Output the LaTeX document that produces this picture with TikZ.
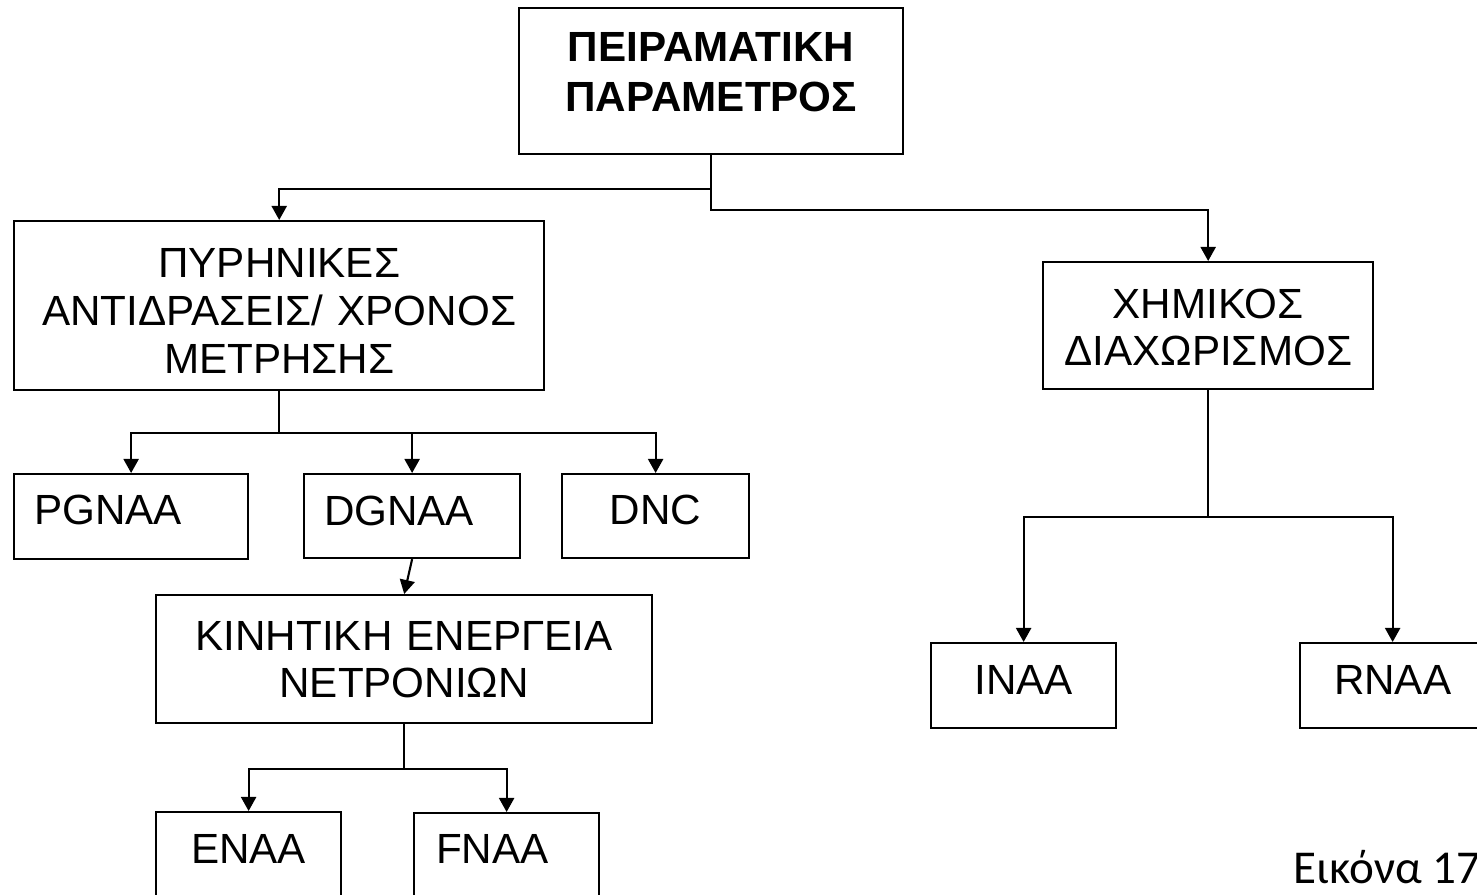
\documentclass[tikz,border=0pt]{standalone}
\usepackage{fontspec}
\setmainfont{Liberation Sans}
\newfontfamily\capfont{Carlito}
\usetikzlibrary{arrows.meta, positioning}
\tikzset{
  box/.style   = {draw, line width=0.6pt, anchor=north west, inner xsep=0pt, inner ysep=0pt,
                  align=center, font=\fontsize{12}{14.2}\selectfont},
  sbox/.style  = {box, text width=1.85cm, text height=0.51cm, text depth=0.34cm},
  arrow/.style = {-{Triangle[length=0.14cm, width=0.15cm]}, line width=0.6pt},
}

\begin{document}
\begin{tikzpicture}[x=0.01cm, y=-0.01cm]
  \useasboundingbox (0,0) rectangle (1477,895);
  \clip (0,0) rectangle (1477,895);

  % top and second level
  \node[box, text width=3.84cm, text height=0.53cm, text depth=0.93cm, font=\bfseries\fontsize{12}{14.2}\selectfont]
    (param) at (518,7) {ΠΕΙΡΑΜΑΤΙΚΗ\\ΠΑΡΑΜΕΤΡΟΣ};
  \node[box, text width=5.30cm, text height=0.56cm, text depth=1.13cm, font=\fontsize{12}{13.7}\selectfont]
    (nuclear) at (13,220) {ΠΥΡΗΝΙΚΕΣ\\ΑΝΤΙΔΡΑΣΕΙΣ/ ΧΡΟΝΟΣ\\ΜΕΤΡΗΣΗΣ};
  \node[box, text width=3.30cm, text height=0.56cm, text depth=0.71cm, font=\fontsize{12}{13.6}\selectfont]
    (chem) at (1042,261) {ΧΗΜΙΚΟΣ\\ΔΙΑΧΩΡΙΣΜΟΣ};

  % methods
  \node[sbox, text width=1.94cm, inner xsep=0.2cm, align=left, text height=0.50cm, text depth=0.35cm]
    (pgnaa) at (13,473) {PGNAA};
  \node[sbox, text width=1.76cm, inner xsep=0.2cm, align=left, text depth=0.33cm]
    (dgnaa) at (303,473) {DGNAA};
  \node[sbox, text width=1.87cm, text height=0.50cm] (dnc) at (561,473) {DNC};
  \node[box, text width=4.96cm, text height=0.55cm, text depth=0.73cm, font=\fontsize{12}{13.4}\selectfont]
    (kinetic) at (155,594) {ΚΙΝΗΤΙΚΗ ΕΝΕΡΓΕΙΑ\\ΝΕΤΡΟΝΙΩΝ};
  \node[sbox, text depth=0.40cm] (enaa) at (155,811) {ENAA};
  \node[sbox, text width=1.41cm, inner xsep=0.22cm, align=left, text height=0.50cm, text depth=0.40cm]
    (fnaa) at (413,812) {FNAA};
  \node[sbox] (inaa) at (930,642) {INAA};
  \node[sbox] (rnaa) at (1299,642) {RNAA};

  % connectors
  \draw[arrow] (param.south) -- ++(0,34) -| (nuclear.north);
  \draw[arrow] (param.south) -- ++(0,55) -| (chem.north);
  \foreach \n in {pgnaa, dgnaa, dnc}
    \draw[arrow] (nuclear.south) -- ++(0,42) -| (\n.north);
  \draw[arrow] (dgnaa.south) -- (kinetic.north);
  \foreach \n in {enaa, fnaa}
    \draw[arrow] (kinetic.south) -- ++(0,45) -| (\n.north);
  \foreach \n in {inaa, rnaa}
    \draw[arrow] (chem.south) -- ++(0,127) -| (\n.north);

  \node[anchor=base west, inner sep=0pt, font=\capfont\fontsize{13.4}{16}\selectfont]
    (caption) at (1293,883) {Εικόνα 17};
\end{tikzpicture}
\end{document}
